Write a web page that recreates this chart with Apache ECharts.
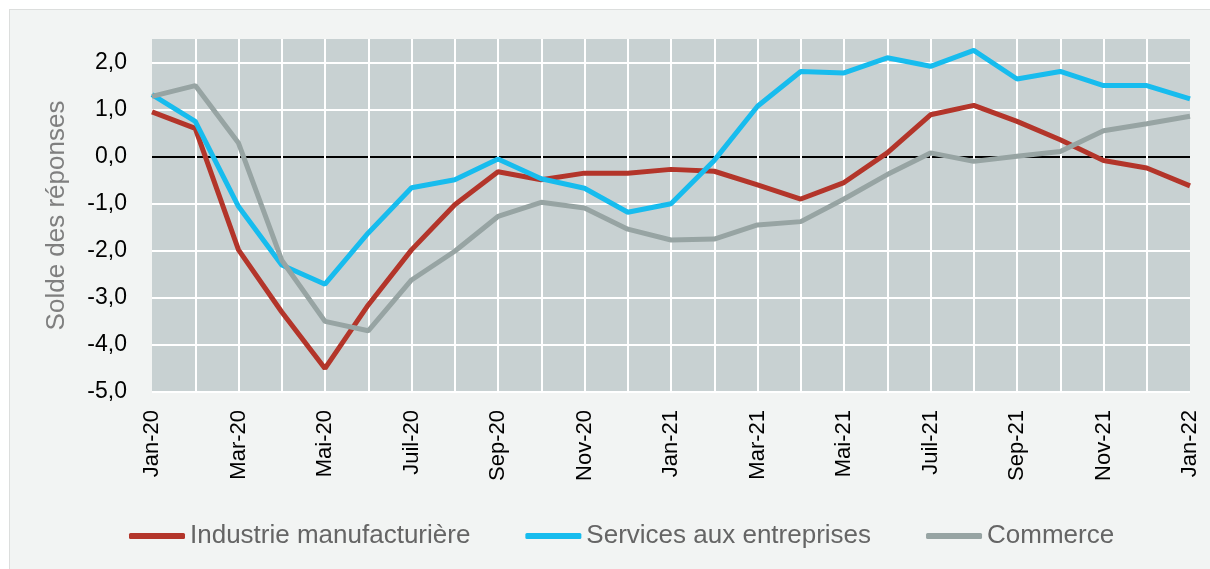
<!DOCTYPE html>
<html>
<head>
<meta charset="utf-8">
<script src="https://cdn.jsdelivr.net/npm/echarts@6/dist/echarts.min.js"></script>
<style>
html,body{margin:0;padding:0;background:#fff;}
#wrap{position:relative;width:1210px;height:569px;overflow:hidden;}
#panel{position:absolute;left:9px;top:9px;width:1220px;height:580px;background:#f2f4f3;border:1px solid #dcdedd;box-sizing:border-box;}
#chart{position:absolute;left:0;top:0;width:1210px;height:569px;}
</style>
</head>
<body>
<div id="wrap"><div id="panel"></div><div id="chart"></div></div>
<script>
const categories = ['Jan-20','Fév-20','Mar-20','Avr-20','Mai-20','Juin-20','Juil-20','Aoû-20','Sep-20','Oct-20','Nov-20','Déc-20',
  'Jan-21','Fév-21','Mar-21','Avr-21','Mai-21','Juin-21','Juil-21','Aoû-21','Sep-21','Oct-21','Nov-21','Déc-21','Jan-22'];
const industrie = [0.95,0.6,-1.98,-3.3,-4.5,-3.15,-1.98,-1.02,-0.32,-0.49,-0.35,-0.35,-0.27,-0.31,-0.6,-0.9,-0.55,0.08,0.89,1.09,0.75,0.36,-0.08,-0.24,-0.62];
const services = [1.32,0.75,-1.06,-2.3,-2.71,-1.62,-0.66,-0.49,-0.05,-0.47,-0.67,-1.18,-1.0,-0.08,1.07,1.81,1.78,2.1,1.92,2.26,1.65,1.81,1.51,1.51,1.23];
const commerce = [1.28,1.51,0.29,-2.2,-3.5,-3.7,-2.62,-2.01,-1.27,-0.97,-1.09,-1.54,-1.77,-1.75,-1.45,-1.38,-0.9,-0.38,0.08,-0.1,0.01,0.11,0.55,0.7,0.86];
const seriesNames = ['Industrie manufacturière','Services aux entreprises','Commerce'];
const colors = ['#b3352a','#17bcee','#97a4a3'];

const chart = echarts.init(document.getElementById('chart'), null, {renderer:'canvas'});
const font = '"Liberation Sans", Arial, sans-serif';
chart.setOption({
  backgroundColor: 'transparent',
  animation: false,
  grid: {left:152, right:20, top:39, bottom:177, show:true, backgroundColor:'#c8d1d2', borderWidth:0},
  legend: {
    data: seriesNames, left:124, top:518, itemGap:55, itemWidth:56, itemHeight:6,
    icon:'roundRect',
    textStyle:{color:'#656565', fontSize:26, fontFamily:font}
  },
  xAxis: {
    type:'category', data:categories, boundaryGap:false,
    axisLine:{show:false}, axisTick:{show:false, interval:0},
    axisLabel:{interval:1, rotate:90, margin:18, color:'#000', fontSize:22, fontFamily:font},
    splitLine:{show:true, interval:0, showMinLine:false, showMaxLine:false, lineStyle:{color:'#ffffff', width:2}}
  },
  yAxis: {
    type:'value', min:-5, max:2.5, interval:1,
    name:'Solde des réponses', nameLocation:'middle', nameGap:82, nameRotate:90,
    nameTextStyle:{color:'#7f7f7f', fontSize:26, fontFamily:font},
    axisLine:{show:false}, axisTick:{show:false},
    axisLabel:{margin:25, color:'#000', fontSize:23, fontFamily:font, showMaxLabel:false,
      formatter: v => Number.isInteger(v) ? v.toFixed(1).replace('.', ',') : ''},
    splitLine:{show:true, showMaxLine:false, lineStyle:{width:2, color:['#fff','#fff','#fff','#fff','#fff','#000','#fff','#fff']}}
  },
  series: [
    {name:seriesNames[0], type:'line', data:industrie, symbol:'none', lineStyle:{width:5, color:colors[0]}, itemStyle:{color:colors[0]}},
    {name:seriesNames[1], type:'line', data:services, symbol:'none', lineStyle:{width:5, color:colors[1]}, itemStyle:{color:colors[1]}},
    {name:seriesNames[2], type:'line', data:commerce, symbol:'none', lineStyle:{width:5, color:colors[2]}, itemStyle:{color:colors[2]}}
  ]
});
</script>
</body>
</html>
